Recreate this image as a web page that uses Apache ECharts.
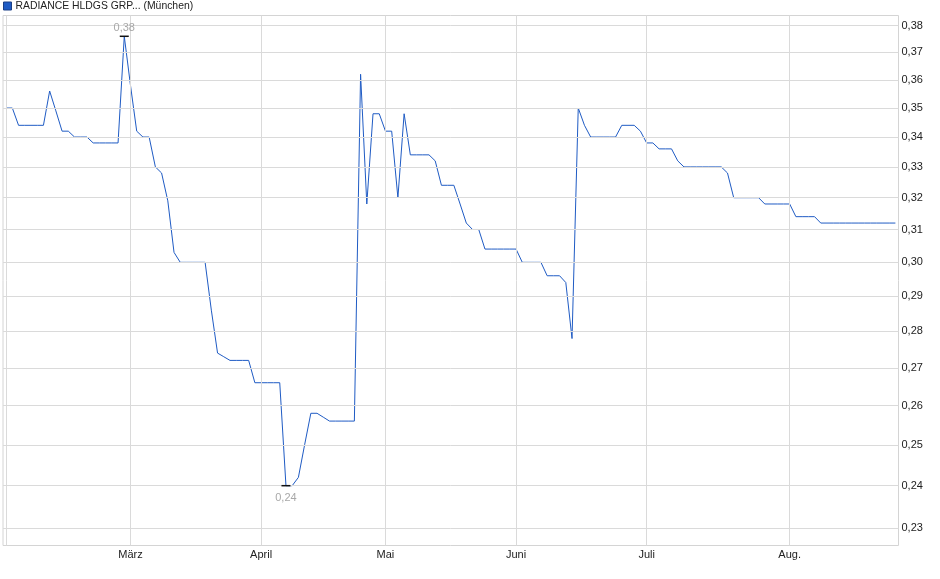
<!DOCTYPE html>
<html>
<head>
<meta charset="utf-8">
<script src="https://cdn.jsdelivr.net/npm/echarts@6/dist/echarts.min.js"></script>
<style>
html,body{margin:0;padding:0;background:#fff;}
#chart{width:940px;height:579px;}
</style>
</head>
<body>
<div id="chart"></div>
<script>
// ---- data ----
const seriesName = 'RADIANCE HLDGS GRP... (München)';
const startDate = '2025-02-03';
const endDate = '2025-08-26';
const holidays = ['2025-04-18', '2025-04-21', '2025-05-01'];
const monthNames = {1: 'Jan.', 2: 'Feb.', 3: 'März', 4: 'April', 5: 'Mai', 6: 'Juni', 7: 'Juli', 8: 'Aug.'};
const yTicks = [0.23, 0.24, 0.25, 0.26, 0.27, 0.28, 0.29, 0.30, 0.31, 0.32, 0.33, 0.34, 0.35, 0.36, 0.37, 0.38];
const prices = [
  0.350, 0.350, 0.344, 0.344, 0.344, 0.344, 0.344, 0.356, 0.349, 0.342,
  0.342, 0.340, 0.340, 0.340, 0.338, 0.338, 0.338, 0.338, 0.338, 0.376,
  0.358, 0.342, 0.340, 0.340, 0.330, 0.328, 0.319, 0.303, 0.300, 0.300,
  0.300, 0.300, 0.300, 0.286, 0.274, 0.273, 0.272, 0.272, 0.272, 0.272,
  0.266, 0.266, 0.266, 0.266, 0.266, 0.240, 0.240, 0.242, 0.250, 0.258,
  0.258, 0.257, 0.256, 0.256, 0.256, 0.256, 0.256, 0.362, 0.318, 0.348,
  0.348, 0.342, 0.342, 0.320, 0.348, 0.334, 0.334, 0.334, 0.334, 0.332,
  0.324, 0.324, 0.324, 0.318, 0.312, 0.310, 0.310, 0.304, 0.304, 0.304,
  0.304, 0.304, 0.304, 0.300, 0.300, 0.300, 0.300, 0.296, 0.296, 0.296,
  0.294, 0.278, 0.350, 0.344, 0.340, 0.340, 0.340, 0.340, 0.340, 0.344,
  0.344, 0.344, 0.342, 0.338, 0.338, 0.336, 0.336, 0.336, 0.332, 0.330,
  0.330, 0.330, 0.330, 0.330, 0.330, 0.330, 0.328, 0.320, 0.320, 0.320,
  0.320, 0.320, 0.318, 0.318, 0.318, 0.318, 0.318, 0.314, 0.314, 0.314,
  0.314, 0.312, 0.312, 0.312, 0.312, 0.312, 0.312, 0.312, 0.312, 0.312,
  0.312, 0.312, 0.312, 0.312
];

// ---- trading-day categories ----
function pad(n){return (n < 10 ? '0' : '') + n;}
const dates = [];
(function(){
  const d = new Date(startDate + 'T12:00:00Z');
  const end = new Date(endDate + 'T12:00:00Z');
  while (d <= end) {
    const wd = d.getUTCDay();
    const s = d.getUTCFullYear() + '-' + pad(d.getUTCMonth() + 1) + '-' + pad(d.getUTCDate());
    if (wd !== 0 && wd !== 6 && holidays.indexOf(s) < 0) dates.push(s);
    d.setUTCDate(d.getUTCDate() + 1);
  }
})();
const monthStarts = [];
dates.forEach(function(s, i){
  if (i > 0 && s.slice(5, 7) !== dates[i - 1].slice(5, 7)) monthStarts.push(i);
});

const fmt = function(v){return v.toFixed(2).replace('.', ',');};
const FONT = '"Liberation Sans", Arial, sans-serif';
const GRID_COLOR = '#dadada';

const gridLines = yTicks.map(function(t){
  return {yAxis: t, label: {formatter: fmt(t)}};
}).concat([0].concat(monthStarts).map(function(i){
  return {xAxis: dates[i], label: {show: false}};
}));

const chart = echarts.init(document.getElementById('chart'), null, {renderer: 'canvas'});
chart.setOption({
  animation: false,
  backgroundColor: '#ffffff',
  textStyle: {fontFamily: FONT},
  legend: {
    data: [seriesName],
    left: 3, top: 1, padding: 0,
    icon: 'rect', itemWidth: 8, itemHeight: 8, itemGap: 4,
    selectedMode: false,
    textStyle: {fontSize: 10.4, color: '#222', fontFamily: FONT, padding: [0, 0, 0, -1]},
    itemStyle: {borderColor: '#1b3f86', borderWidth: 1}
  },
  grid: {
    left: 3, right: 41.5, top: 15.5, bottom: 33.5,
    show: true, borderColor: '#d4d4d4', borderWidth: 1, backgroundColor: 'transparent'
  },
  xAxis: {
    type: 'category',
    data: dates,
    boundaryGap: true,
    axisLine: {show: false},
    axisTick: {show: false},
    splitLine: {show: false},
    axisLabel: {
      interval: function(i){return monthStarts.indexOf(i) >= 0;},
      formatter: function(v){return monthNames[parseInt(v.slice(5, 7), 10)];},
      fontSize: 11, color: '#222', margin: 4, fontFamily: FONT
    }
  },
  yAxis: {
    type: 'log',
    logBase: 10,
    position: 'right',
    min: 0.22608,
    max: 0.38389,
    axisLine: {show: false},
    axisTick: {show: false},
    axisLabel: {show: false},
    splitLine: {show: false}
  },
  series: [
    {
      name: 'grid',
      type: 'line',
      data: [],
      z: 1,
      silent: true,
      markLine: {
        silent: true,
        symbol: 'none',
        animation: false,
        lineStyle: {color: GRID_COLOR, width: 1, type: 'solid'},
        label: {position: 'end', distance: 3, fontSize: 11, color: '#222', fontFamily: FONT},
        emphasis: {disabled: true},
        data: gridLines
      }
    },
    {
      name: seriesName,
      type: 'line',
      data: prices,
      z: 3,
      showSymbol: false,
      symbol: 'none',
      color: '#1f5bc4',
      lineStyle: {color: '#1f5bc4', width: 1},
      markPoint: {
        symbol: 'rect',
        symbolSize: [9, 1.5],
        itemStyle: {color: '#111'},
        silent: true,
        label: {
          formatter: function(p){return fmt(p.value);},
          color: '#a8a8a8', fontSize: 11, fontFamily: FONT
        },
        data: [
          {type: 'max', label: {position: 'top', distance: 2}},
          {type: 'min', label: {position: 'bottom', distance: 6}}
        ]
      }
    }
  ]
});
</script>
</body>
</html>
